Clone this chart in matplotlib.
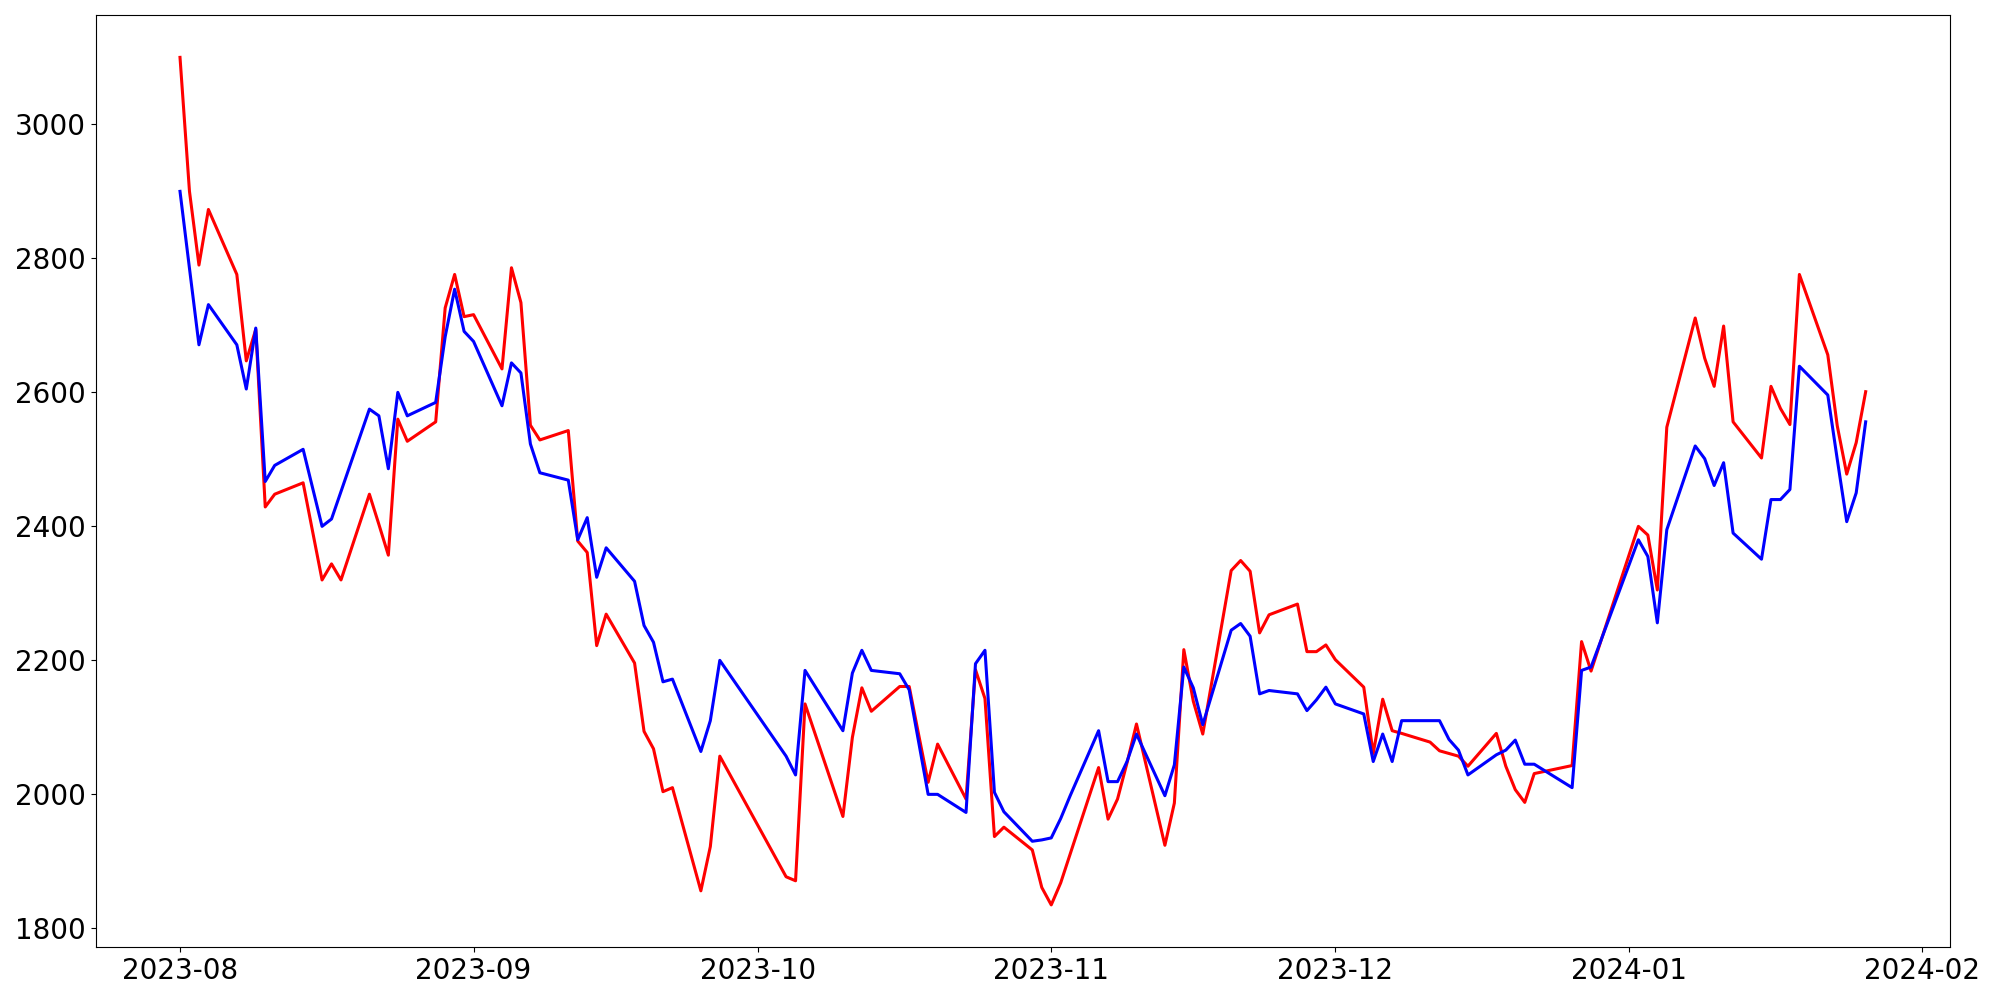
import numpy as np
import pandas as pd
import matplotlib
matplotlib.use("Agg")
import matplotlib.pyplot as plt

dates = ["2023-08-01", "2023-08-02", "2023-08-03", "2023-08-04", "2023-08-07", "2023-08-08",
         "2023-08-09", "2023-08-10", "2023-08-11", "2023-08-14", "2023-08-16", "2023-08-17",
         "2023-08-18", "2023-08-21", "2023-08-22", "2023-08-23", "2023-08-24", "2023-08-25",
         "2023-08-28", "2023-08-29", "2023-08-30", "2023-08-31", "2023-09-01", "2023-09-04",
         "2023-09-05", "2023-09-06", "2023-09-07", "2023-09-08", "2023-09-11", "2023-09-12",
         "2023-09-13", "2023-09-14", "2023-09-15", "2023-09-18", "2023-09-19", "2023-09-20",
         "2023-09-21", "2023-09-22", "2023-09-25", "2023-09-26", "2023-09-27", "2023-10-04",
         "2023-10-05", "2023-10-06", "2023-10-10", "2023-10-11", "2023-10-12", "2023-10-13",
         "2023-10-16", "2023-10-17", "2023-10-18", "2023-10-19", "2023-10-20", "2023-10-23",
         "2023-10-24", "2023-10-25", "2023-10-26", "2023-10-27", "2023-10-30", "2023-10-31",
         "2023-11-01", "2023-11-02", "2023-11-03", "2023-11-06", "2023-11-07", "2023-11-08",
         "2023-11-09", "2023-11-10", "2023-11-13", "2023-11-14", "2023-11-15", "2023-11-16",
         "2023-11-17", "2023-11-20", "2023-11-21", "2023-11-22", "2023-11-23", "2023-11-24",
         "2023-11-27", "2023-11-28", "2023-11-29", "2023-11-30", "2023-12-01", "2023-12-04",
         "2023-12-05", "2023-12-06", "2023-12-07", "2023-12-08", "2023-12-11", "2023-12-12",
         "2023-12-13", "2023-12-14", "2023-12-15", "2023-12-18", "2023-12-19", "2023-12-20",
         "2023-12-21", "2023-12-22", "2023-12-26", "2023-12-27", "2023-12-28", "2024-01-02",
         "2024-01-03", "2024-01-04", "2024-01-05", "2024-01-08", "2024-01-09", "2024-01-10",
         "2024-01-11", "2024-01-12", "2024-01-15", "2024-01-16", "2024-01-17", "2024-01-18",
         "2024-01-19", "2024-01-22", "2024-01-23", "2024-01-24", "2024-01-25", "2024-01-26"]

red_vals = [3100, 2900, 2790, 2873, 2776, 2647, 2694, 2429, 2448, 2465, 2320, 2344,
            2320, 2448, 2403, 2357, 2560, 2527, 2556, 2726, 2776, 2713, 2716, 2635,
            2786, 2734, 2551, 2529, 2543, 2378, 2361, 2222, 2269, 2196, 2094, 2068,
            2004, 2010, 1856, 1922, 2057, 1877, 1871, 2135, 1967, 2085, 2159, 2124,
            2161, 2161, 2089, 2018, 2075, 1993, 2186, 2143, 1937, 1951, 1917, 1861,
            1835, 1868, 1911, 2040, 1963, 1993, 2047, 2105, 1924, 1987, 2216, 2139,
            2090, 2334, 2349, 2333, 2241, 2268, 2284, 2213, 2213, 2223, 2201, 2160,
            2061, 2142, 2095, 2091, 2078, 2065, 2061, 2057, 2042, 2091, 2042, 2007,
            1988, 2031, 2043, 2228, 2184, 2400, 2387, 2305, 2548, 2711, 2651, 2609,
            2699, 2556, 2502, 2609, 2576, 2552, 2776, 2656, 2550, 2478, 2525, 2601]

blue_vals = [2900, 2785, 2671, 2731, 2671, 2605, 2696, 2467, 2491, 2515, 2400, 2411,
             2452, 2575, 2565, 2486, 2600, 2565, 2585, 2683, 2754, 2691, 2676, 2580,
             2644, 2629, 2523, 2480, 2469, 2380, 2413, 2324, 2368, 2318, 2252, 2227,
             2168, 2172, 2064, 2110, 2200, 2057, 2029, 2185, 2095, 2181, 2215, 2185,
             2180, 2156, 2078, 2000, 2000, 1973, 2195, 2215, 2003, 1974, 1930, 1932,
             1935, 1964, 1998, 2095, 2019, 2019, 2049, 2090, 1998, 2044, 2190, 2159,
             2104, 2245, 2255, 2236, 2150, 2155, 2150, 2125, 2141, 2160, 2135, 2120,
             2049, 2090, 2049, 2110, 2110, 2110, 2082, 2066, 2029, 2059, 2066, 2081,
             2045, 2045, 2010, 2185, 2190, 2380, 2355, 2256, 2395, 2520, 2501, 2461,
             2495, 2390, 2351, 2440, 2440, 2455, 2639, 2596, 2500, 2407, 2450, 2556]

x = pd.to_datetime(dates)

fig, ax = plt.subplots(figsize=(20, 10))
ax.plot(x, red_vals, "r", linewidth=2.2)
ax.plot(x, blue_vals, "b", linewidth=2.2)
ax.tick_params(labelsize=20)
plt.tight_layout()
plt.savefig("out.png", dpi=100)
